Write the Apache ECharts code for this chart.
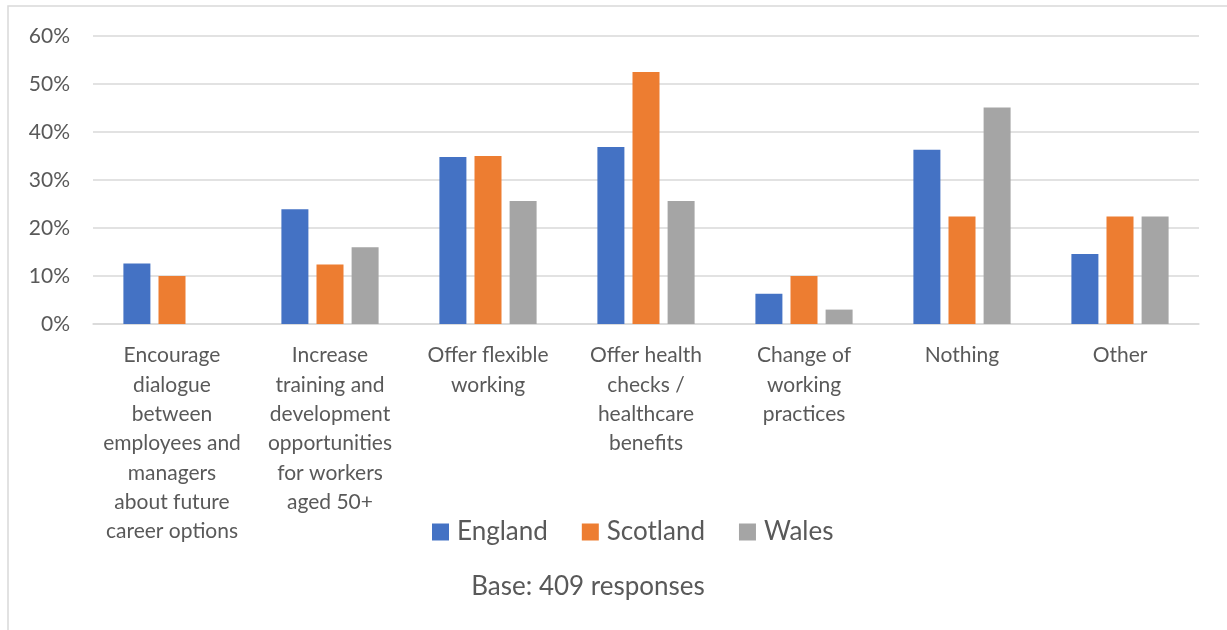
<!DOCTYPE html>
<html>
<head>
<meta charset="utf-8">
<script src="https://cdn.jsdelivr.net/npm/echarts@6/dist/echarts.min.js"></script>
<style>
html, body { margin: 0; padding: 0; background: #fff; }
#chart { width: 1227px; height: 630px; }
</style>
</head>
<body>
<div id="chart"></div>
<script>
var categories = [
	'Encourage\ndialogue\nbetween\nemployees and\nmanagers\nabout future\ncareer options',
	'Increase\ntraining and\ndevelopment\nopportunities\nfor workers\naged 50+',
	'Offer flexible\nworking',
	'Offer health\nchecks /\nhealthcare\nbenefits',
	'Change of\nworking\npractices',
	'Nothing',
	'Other'
];
var england = [12.6, 23.9, 34.8, 36.9, 6.3, 36.3, 14.6];
var scotland = [10.0, 12.4, 35.0, 52.5, 10.0, 22.4, 22.4];
var wales = [0, 16.0, 25.6, 25.6, 3.0, 45.1, 22.4];
var yTicks = [0, 10, 20, 30, 40, 50, 60];

var textColor = '#595959';
var fontFam = 'Lato, "Liberation Sans", sans-serif';

// 基于准备好的dom，初始化echarts实例
var chart = echarts.init(document.getElementById('chart'));

var option = {
	backgroundColor : '#fff',
	animation : false,
	textStyle : { fontFamily : fontFam },
	grid : {
		left : 93,
		right : 28,
		top : 36,
		bottom : 306
	},
	legend : {
		left : 432,
		top : 519,
		padding : 0,
		itemWidth : 17,
		itemHeight : 17,
		itemGap : 34,
		icon : 'rect',
		textStyle : { fontSize : 26, color : textColor, fontFamily : fontFam, padding : [ 0, 0, 0, 3 ] },
		data : [ 'England', 'Scotland', 'Wales' ]
	},
	title : {
		text : 'Base: 409 responses',
		left : 588,
		textAlign : 'center',
		top : 574,
		padding : 0,
		textStyle : { fontSize : 26, fontWeight : 'normal', color : textColor, fontFamily : fontFam }
	},
	graphic : [ {
		type : 'rect',
		shape : { x : 8, y : 6, width : 1240, height : 660 },
		style : { fill : 'none', stroke : '#d9d9d9', lineWidth : 1.5 },
		silent : true
	} ],
	xAxis : {
		type : 'category',
		data : categories,
		axisTick : { show : false },
		axisLine : { lineStyle : { color : '#d9d9d9', width : 1.5 } },
		axisLabel : {
			interval : 0,
			margin : 17,
			color : textColor,
			fontSize : 21,
			lineHeight : 29.3,
			fontFamily : fontFam
		}
	},
	yAxis : {
		type : 'value',
		min : yTicks[0],
		max : yTicks[yTicks.length - 1],
		interval : 10,
		axisLine : { show : false },
		axisTick : { show : false },
		splitLine : { lineStyle : { color : '#d9d9d9', width : 1.5 } },
		axisLabel : {
			formatter : '{value}%',
			margin : 23,
			color : textColor,
			fontSize : 21,
			fontFamily : fontFam
		}
	},
	series : [ {
		name : 'England',
		type : 'bar',
		barWidth : 27,
		barGap : '30%',
		itemStyle : { color : '#4472C4' },
		data : england
	}, {
		name : 'Scotland',
		type : 'bar',
		barWidth : 27,
		barGap : '30%',
		itemStyle : { color : '#ED7D31' },
		data : scotland
	}, {
		name : 'Wales',
		type : 'bar',
		barWidth : 27,
		barGap : '30%',
		itemStyle : { color : '#A5A5A5' },
		data : wales
	} ]
};
chart.setOption(option);
</script>
</body>
</html>
